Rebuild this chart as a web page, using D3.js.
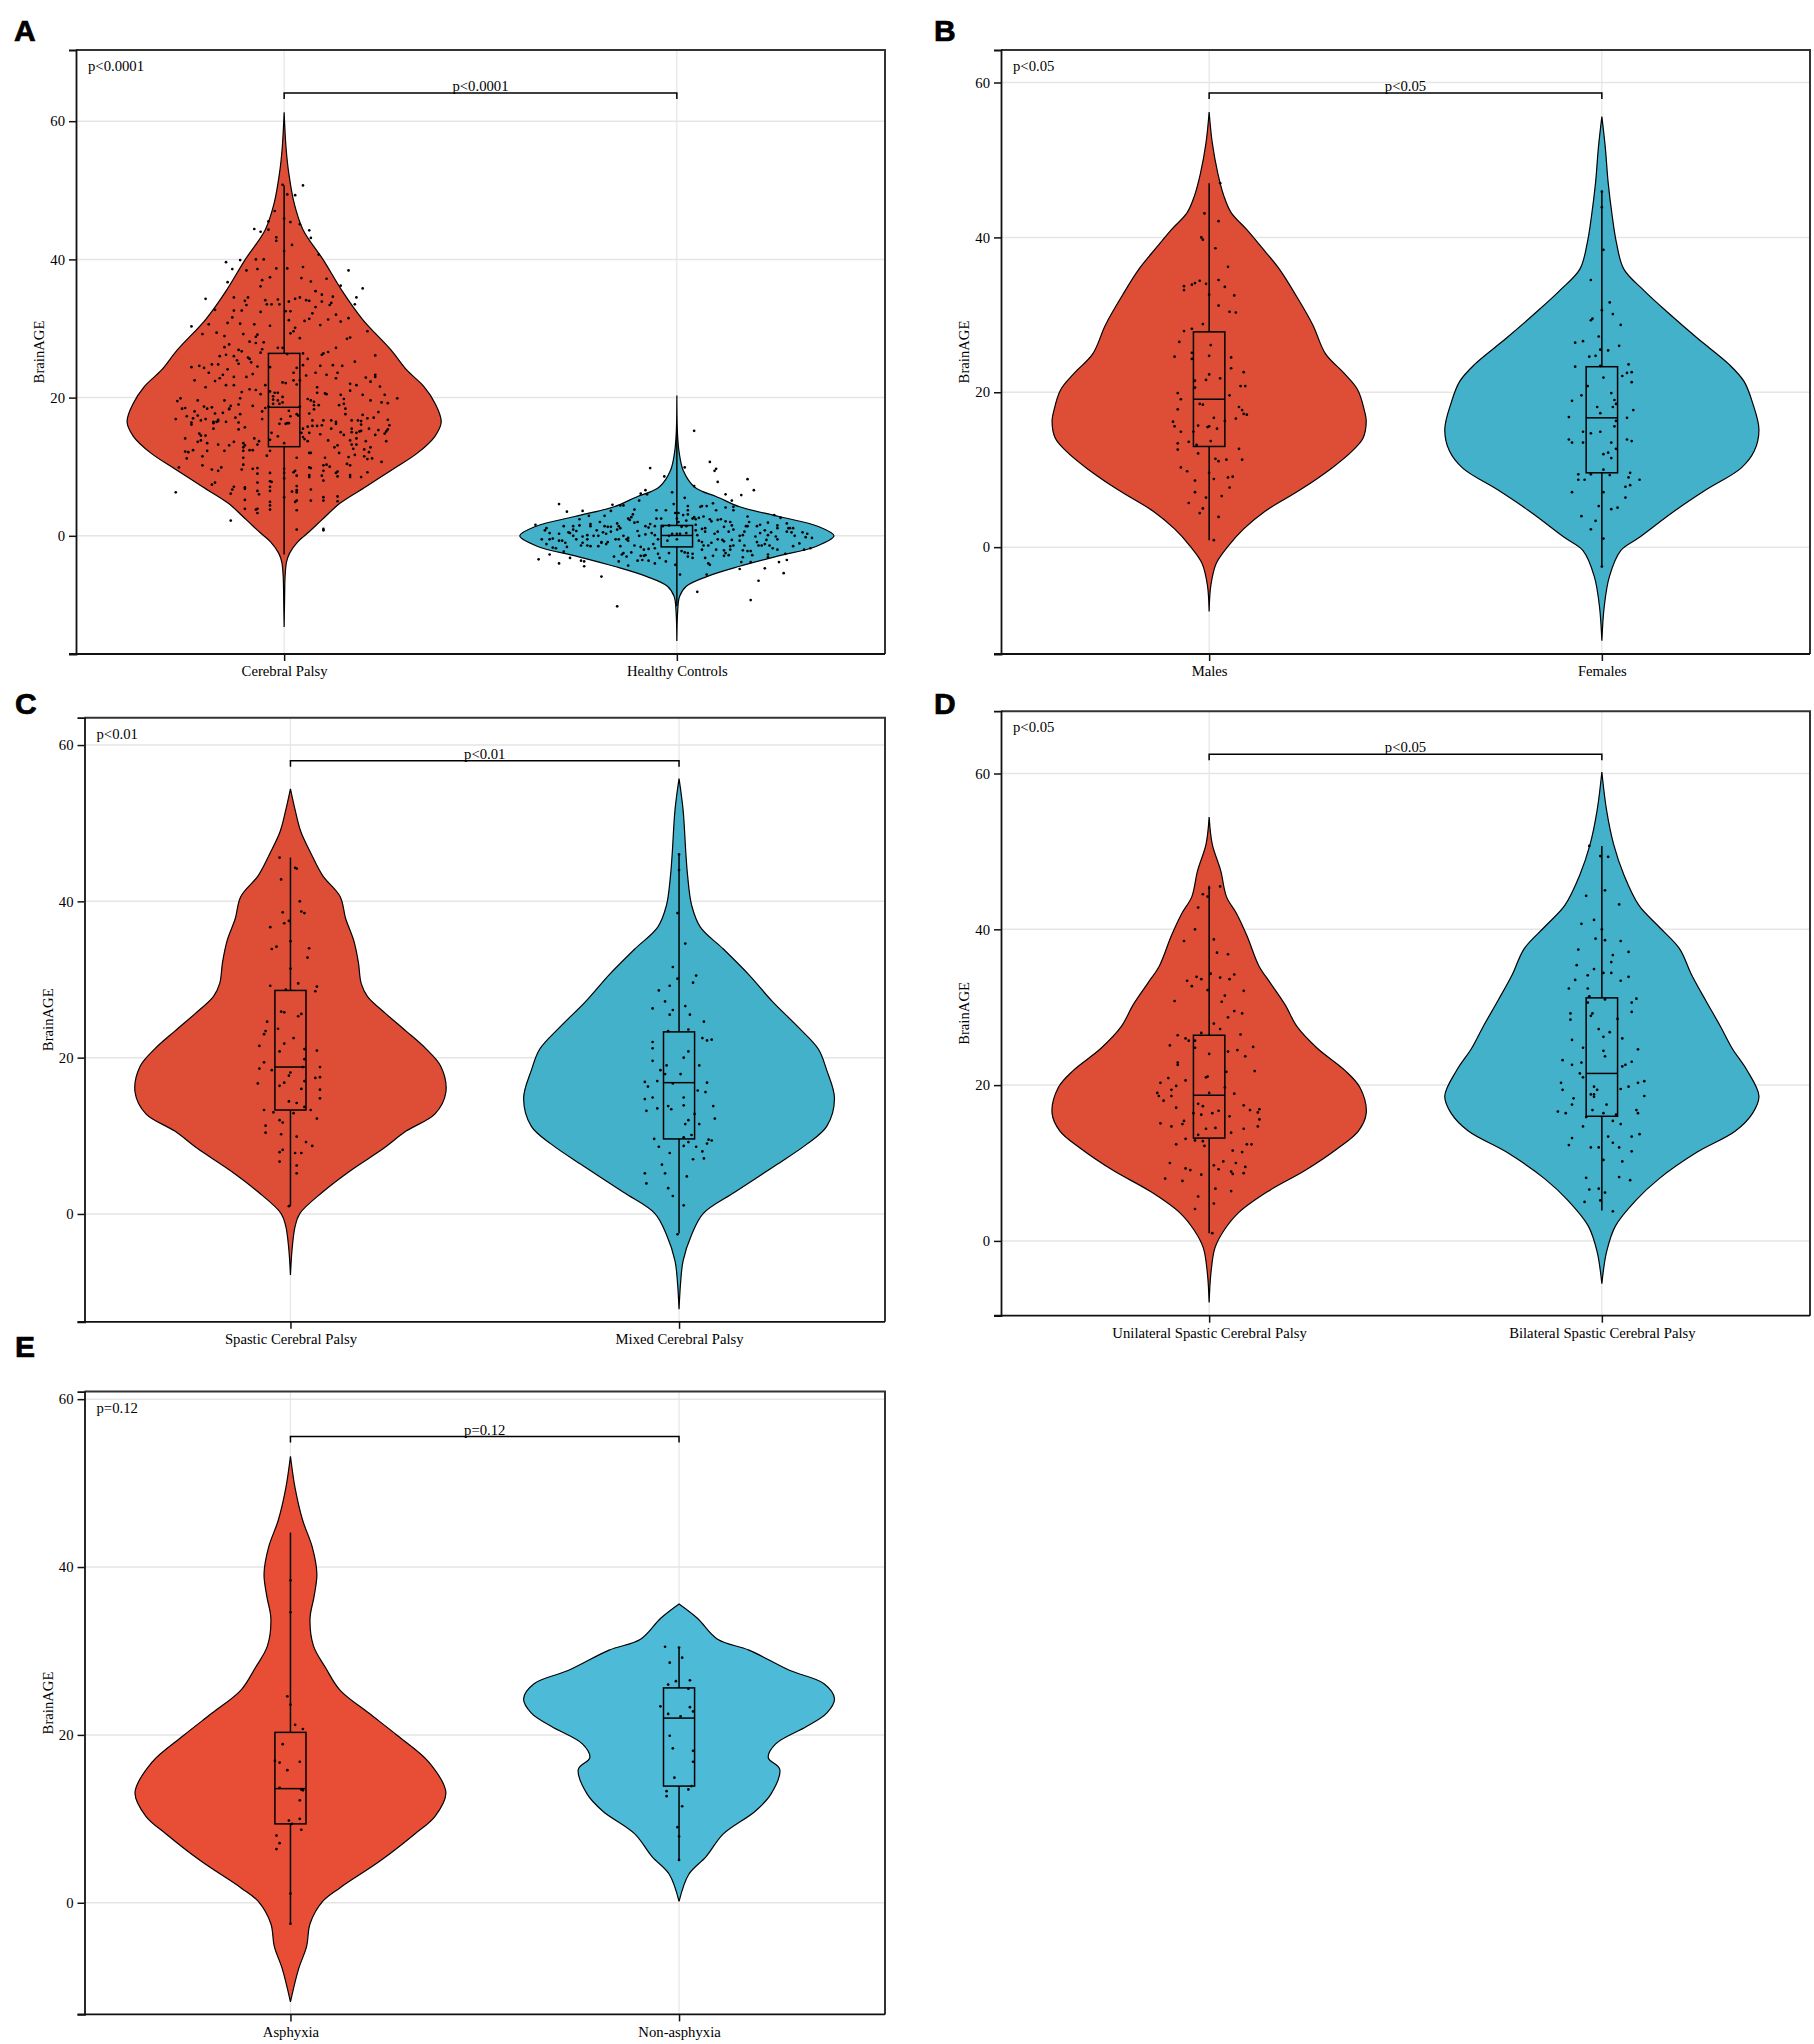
<!DOCTYPE html>
<html>
<head>
<meta charset="utf-8">
<title>BrainAGE violins</title>
<script src="https://cdn.jsdelivr.net/npm/d3@7"></script>
<style>
body { margin: 0; background: #fff; }
text { font-family: "Liberation Serif", serif; fill: #000; }
</style>
</head>
<body>
<svg id="fig" width="1814" height="2044"></svg>
<script>
// tick labels
const yTicks = [0, 20, 40, 60];

// each violin: outline levels (BrainAGE), relative widths (0-1), box [low, q1, median, q3, high], dots [jitter, BrainAGE]
// A - Cerebral Palsy
const cpLevels = [61.3,56.2,52.4,48.1,44.3,39.9,35.6,31.3,26.9,24,21.6,19.2,16.5,14.4,12,9.6,7.1,4.7,2.3,.4,-.9,-2.5,-3.8,-5.9,-9,-13.2];
const cpWidths = [0,.012,.03,.064,.12,.25,.365,.5,.68,.78,.89,.96,1,.96,.85,.69,.52,.355,.24,.15,.085,.035,.015,.006,.003,0];
const cpBox = [-2.7,12.9,18.6,26.4,50.7];
const cpPoints = [[.12,50.7],[-.01,50.8],[.02,49.4],[.07,49.3],[-.06,47],[0,45.9],[.04,45.4],[.1,45.1],[-.1,45.5],[-.19,44.4],[-.15,44],[-.1,44.3],[.16,44.2],[.17,43.1],[-.05,43.2],[-.05,42.7],[.05,42.1],[0,41.2],[.22,40.7],[-.18,40],[-.13,40],[-.28,39.9],[-.37,39.6],[-.33,38.6],[-.24,38.4],[-.17,38.6],[-.05,38.7],[.02,38.7],[.12,38.9],[.41,38.4],[-.09,37.4],[.11,37.3],[.27,37.2],[-.14,37],[.17,36.8],[-.36,36.7],[.36,36.2],[-.15,36.1],[.5,35.8],[.2,35.4],[.24,34.9],[-.32,34.5],[-.23,34.5],[.31,34.6],[.46,34.5],[.1,34.5],[.07,34.3],[-.5,34.3],[-.04,34.2],[-.12,34.1],[-.25,34],[.14,34.1],[.16,34],[.03,33.9],[.24,33.9],[.3,33.7],[-.24,33.4],[-.11,33.5],[-.08,33.5],[-.03,33.5],[.29,33.4],[.45,33.5],[.2,33.1],[-.44,32.7],[-.32,32.6],[-.27,32.6],[-.15,32.4],[.01,32.5],[.04,32.5],[.18,32.2],[.33,32],[-.33,31.6],[.41,31.5],[.16,31.4],[.28,31.3],[.13,31.1],[.03,31.2],[.36,31],[-.36,30.8],[-.48,30.6],[-.28,30.7],[-.19,30.6],[.23,30.5],[-.59,30.3],[-.09,30.4],[.07,30.1],[.06,29.6],[.53,29.6],[-.43,29.4],[-.52,29.2],[-.26,29.2],[.04,29.3],[-.17,29.1],[-.18,28.8],[-.38,28.9],[.1,28.6],[.42,28.7],[.4,28.5],[-.22,28.1],[-.13,28],[-.18,27.9],[-.35,27.7],[-.38,27.3],[-.04,27.2],[-.01,27.2],[.33,27.2],[-.29,26.9],[-.27,26.7],[-.14,27],[.28,26.6],[-.15,26.5],[-.37,26.2],[-.32,26],[.12,26.4],[.02,26.3],[.25,26.4],[.24,26.2],[-.41,26],[-.23,25.8],[.15,25.6],[.58,26.1],[-.22,25.6],[-.3,25.4],[-.21,25.1],[.45,25.2],[-.46,24.8],[-.42,24.8],[-.29,24.9],[.12,24.7],[-.59,24.4],[-.54,24.6],[-.17,24.5],[.23,24.6],[.31,24.7],[.37,24.6],[-.51,24.3],[.08,24.3],[-.09,24.4],[-.36,24.1],
[-.48,23.6],[-.2,23.4],[.06,23.6],[.2,23.6],[.27,23.3],[.34,23.6],[-.39,23.3],[-.41,22.8],[-.44,22.4],[-.32,23],[-.24,23],[.14,23.2],[.06,22.5],[.1,22.5],[.33,22.8],[.58,23.3],[.52,22.9],[.58,23],[.55,22.3],[-.57,22.5],[-.5,21.5],[-.37,21.8],[-.32,21.8],[-.12,21.8],[-.01,22.2],[.01,22.1],[.08,21.9],[.42,22],[.46,21.8],[.61,21.6],[.21,21.5],[.21,20.7],[.42,21],[-.22,21.2],[-.18,21.1],[-.15,20.5],[-.27,20.8],[-.09,20.9],[-.06,20.7],[-.04,20.7],[.26,20.6],[.27,20.5],[.36,20.4],[.5,20.4],[.64,20.4],[.72,19.9],[-.66,19.9],[-.68,19.5],[-.55,19.6],[-.38,19.6],[-.28,19.9],[-.07,20.2],[-.01,20.1],[.15,19.8],[.17,19.6],[.38,19.8],[.55,19.6],[-.07,19.7],[-.04,19.6],[.19,19.4],[.62,19.3],[.66,19.2],[-.07,19.1],[-.03,19.1],[-.01,19.3],[-.29,19],[-.34,18.8],[-.2,18.8],[-.51,18.7],[-.46,18.6],[.19,18.9],[.22,18.9],[.35,18.9],[.38,19.1],[-.1,18.7],[-.65,18.4],[-.63,18.5],[-.49,18.4],[-.35,18.3],[-.35,18.4],[-.12,18.5],[.19,18.3],[.39,18.4],[.1,18.7],[-.57,18],[-.39,17.8],[-.44,17.7],[-.28,17.6],[-.14,18],[.03,18.1],[.16,17.7],[.6,17.9],[.39,17.6],[-.55,17.4],[-.62,17.3],[.08,17.6],[.09,17.4],[.04,17.3],[.5,17.5],[.57,17.1],[.53,17],[-.58,17],[-.69,16.9],[-.5,16.9],[-.53,16.7],[-.42,16.8],[-.45,16.5],[-.43,16.5],[-.42,16.6],[-.37,16.5],[-.31,17.1],[-.14,16.9],[-.02,16.9],[.18,16.7],[.25,16.7],[.3,16.7],[.33,16.5],[.43,16.7],[.47,16.7],[.49,16.6],[.66,16.8],[-.45,16.3],[-.29,16.4],[.03,16.3],[.02,16.3],[-.03,16.2],[.01,16.2],[-.59,16.4],[-.59,16.1],[.24,16],[.33,16.2],[.49,16.1],[.67,16],[-.25,15.7],[.18,15.9],[.15,15.8],[.21,15.9],[-.45,15.5],[-.29,15.4],[.12,15.5],[.3,15.5],[.43,15.5],[.54,15.5],[.6,15.3],[.66,15.4],[.65,15.1],[.36,15],[.43,15],[.46,14.9],[.48,15.1],[.49,15.2],[.64,14.8],[-.54,14.8],[.11,14.9],[.16,14.9],[-.08,14.9],[.23,14.7],[.38,14.6],[.58,14.6],[-.53,14.5],[-.5,14.5],[-.04,14.4],[-.63,14.1],[-.19,14.1],[.12,14.3],[.13,14],[.46,14.1],[-.53,13.8],[-.16,13.7],[-.09,13.9],[.15,13.7],[.28,13.8],[.42,13.8],[.52,13.7],[.65,13.7],[-.55,13.6],[-.32,13.6],[-.49,13.4],[-.42,13.2],[-.35,13.1],[-.26,13.4],[-.25,13.1],[-.17,13.2],[0,13.4],[.34,13.1],[.43,13.2],[.46,13.2],[.32,12.8],[-.26,12.8],[.55,12.8],[.44,12.6],[.51,12.5],[-.49,12.3],[-.58,12.4],[-.61,12.1],[-.63,12.2],[-.38,12.3],[-.26,12.3],[-.22,12.4],[-.2,12.4],[.16,12],[.17,12],[.35,12],[.54,12.1],[-.52,11.5],[-.11,11.6],[-.09,12.3],[.45,11.7],[.41,11.4],[.51,11.5],[.53,11.1],[.56,11.2],[-.62,11.2],[-.26,11.3],[.08,11.3],[.26,11.3],[.62,10.7],[-.26,10.3],[-.52,10.2],[.4,10.4],[.42,10.2],[.27,10.3],[.25,10.2],[.29,10],[-.67,9.9],[-.4,9.9],[.16,9.9],[.17,9.8],[-.2,9.7],[-.17,9.8],[-.46,9.6],[-.42,9.4],[-.27,9.6],[0,9.7],[.07,9.4],[.06,9.2],[.25,9.4],[.34,9.3],[.33,9.1],[.53,9.2],[-.17,9],[-.09,9.1],[0,9.1],[.08,8.7],[.16,8.8],[.24,8.7],[.34,8.6],[.42,8.8],[.42,8.5],[.49,8.5],[0,8.3],[.16,8.5],[-.09,7.9],[-.08,7.8],[-.17,7.7],[.25,8],[-.44,7.7],[-.46,7.4],[.08,7.2],[-.09,7.1],[-.32,7.1],[-.25,7],[-.25,6.8],[-.33,6.7],[-.34,6.1],[-.17,6.5],[.17,6.7],[-.09,6.5],[.08,6.6],[-.69,6.3],[.05,6.4],[.08,6.3],[-.16,6],[0,5.6],[.25,5.6],[.34,5.7],[-.25,5.2],[.08,5.1],[.07,4.9],[.17,5.1],[.25,5.1],[.34,5],[-.09,4.9],[-.09,4.4],[-.25,3.9],[-.17,3.9],[-.18,3.8],[-.09,3.8],[.08,3.7],[-.17,3.3],[-.34,2.2],[.08,.9],[.25,1],[.25,.8]];

// A - Healthy Controls
const hcLevels = [20.3,14.8,12,9.5,7.1,6.4,5.7,4.2,2.8,1.35,0,-1.5,-3,-4.4,-5.9,-7.3,-8.8,-11,-15.2];
const hcWidths = [0,.004,.015,.04,.11,.165,.25,.4,.65,.9,1,.89,.63,.4,.19,.06,.017,.005,0];
const hcBox = [-10.2,-1.6,.05,1.5,15.2];
const hcPoints = [[.11,15.2],[.21,10.7],[.25,9.7],[.24,9.4],[-.17,9.8],[.05,9.9],[-.08,8.6],[.26,7.8],[.45,8.2],[.49,6.6],[.11,7.2],[-.03,6.3],[-.2,6.6],[-.23,6.1],[-.19,6],[.31,6],[.41,5.9],[.05,5.5],[-.24,5.1],[.35,5.1],[-.75,4.6],[-.02,4.6],[-.41,4.5],[-.36,4.4],[-.34,4.4],[.07,4.3],[.15,4.2],[.16,4.3],[.19,4.3],[.23,4.7],[.31,4.1],[.36,4.2],[-.7,3.5],[-.6,3.6],[-.42,3.6],[-.27,3.8],[-.13,3.7],[-.07,3.7],[.07,3.7],[.25,3.7],[.36,3.7],[-.56,2.9],[-.46,2.9],[-.28,3.1],[-.29,2.7],[-.01,3.3],[.01,3.3],[.04,3],[.07,3.1],[.17,2.8],[.45,2.8],[.62,3],[.66,2.6],[-.62,2.4],[-.55,1.7],[-.49,2],[-.38,1.8],[-.31,2.5],[-.3,2.3],[-.13,2.5],[-.1,2.5],[0,2.5],[.01,2],[.06,2.2],[.1,2.5],[.11,2.7],[.12,2.4],[.14,2.6],[.21,2.4],[.22,2.1],[.26,2.3],[.28,2.4],[.31,2.1],[.34,2],[.3,1.3],[.35,1.5],[.46,2],[-.9,1.6],[-.72,1.4],[-.66,1.4],[-.62,1.5],[-.55,1.4],[-.46,1.4],[-.44,1.3],[-.42,1.3],[-.37,1.4],[-.27,1.9],[-.25,2],[-.17,1.7],[-.14,1.4],[-.09,1.4],[-.05,1.5],[.03,1.3],[.06,1.4],[.12,1.6],[.18,1.1],[.44,1.4],[.45,1.4],[.51,1.4],[.53,1.6],[.58,1.9],[.64,1.5],[.7,1.8],[-.83,1.1],[-.84,.8],[-.69,.5],[-.68,.4],[-.64,.7],[-.66,.9],[-.51,.8],[-.47,.5],[-.42,.6],[-.38,.9],[-.36,1.1],[-.2,1.4],[-.18,1.2],[-.25,.7],[-.16,.4],[-.14,.1],[.12,.8],[.16,1],[.18,.6],[.24,.3],[.26,.6],[.33,.6],[.36,.9],[.43,.6],[.53,.4],[.56,.8],[.64,1.1],[.6,.5],[.71,1.1],[.72,1.1],[.74,1.1],[.7,.6],[.73,.5],[.8,.5],[.83,.3],[-.81,.4],[-.75,.3],[-.6,-.1],[-.57,.1],[-.53,0],[-.5,0],[-.45,.3],[-.34,0],[-.31,-.3],[-.24,0],[-.2,.2],[-.05,0],[-.03,.3],[0,.3],[.02,.3],[.06,.4],[.13,.1],[.26,-.5],[.4,0],[.42,.1],[.5,-.1],[.58,.1],[.63,-.1],[.75,0],[.82,-.2],[.86,-.3],[-.86,-.5],[-.81,-.5],[-.79,-.4],[-.75,-.7],[-.73,-.7],[-.66,0],[-.64,-.5],[-.57,-.5],[-.48,-.9],[-.44,-.9],[-.39,-.5],[-.37,-.5],[-.32,-.5],[-.31,-.7],[-.12,-.5],[-.06,-.7],[0,-.5],[.14,-.7],[.16,-.9],[.22,-1],[.29,-.6],[.3,-.8],[.35,-.6],[.4,-.7],[.51,-.9],[.57,-.6],[.64,-.5],[-.83,-1.2],[-.71,-1],[-.61,-1.4],[-.6,-1],[-.57,-1.4],[-.55,-1.5],[-.5,-1.5],[-.45,-1.2],[-.48,-1],[-.27,-1.4],[.17,-1.4],[.2,-1.4],[.34,-1.5],[.36,-1.4],[.43,-1.4],[.52,-1.4],[.54,-1.4],[.59,-1.4],[.74,-1.5],[.78,-1.1],[-.79,-1.7],[-.77,-1.8],[-.7,-1.6],[-.36,-1.5],[-.23,-1.6],[-.21,-2],[-.18,-1.9],[-.15,-1.2],[-.14,-1.8],[.16,-2],[.25,-2],[.3,-2.1],[.34,-2],[.42,-2.1],[.45,-2.2],[.47,-2.2],[.56,-1.2],[.61,-1.8],[.64,-2],[.81,-2],[.85,-1.8],[-.72,-2.3],[-.81,-2.7],[-.34,-2.5],[-.35,-2.7],[-.29,-2.4],[-.2,-2.8],[-.12,-2.6],[-.05,-2.5],[.03,-2.2],[.05,-2.4],[.07,-2.5],[.1,-2.6],[.31,-2.5],[.3,-2.9],[.33,-2.8],[.18,-3.2],[.23,-2.9],[.42,-3.1],[.48,-2.8],[.58,-2.7],[.58,-3.1],[.69,-2.6],[-.4,-3],[-.32,-3],[-.23,-2.9],[-.21,-2.9],[.07,-3],[.1,-3.2],[-.68,-3.2],[-.88,-3.4],[-.61,-3.6],[-.59,-3.7],[-.37,-3.7],[-.25,-3.6],[-.22,-3.5],[-.18,-3.6],[-.14,-4],[-.11,-3.2],[-.07,-3.7],[.41,-3.8],[.47,-3.8],[.65,-3.8],[.7,-3.5],[-.75,-4],[-.31,-4.3],[-.59,-4.4],[-.01,-4.2],[.2,-4],[.21,-4.2],[.4,-4.8],[.56,-4.7],[.02,-5.6],[.19,-5.6],[-.48,-5.9],[.68,-5.4],[.52,-6.5],[.13,-8.1],[.47,-9.3],[-.38,-10.2]];

// B - Males
const maleLevels = [56.2,52.2,48.2,45.4,43.2,41,38.7,35.9,32.6,28.7,25,22.5,20.3,17.5,16.3,14.1,12.4,10.2,7.4,4.6,2.35,.1,-2.1,-4.9,-8.3];
const maleWidths = [0,.02,.056,.093,.14,.24,.335,.447,.55,.66,.74,.857,.946,.99,1,.98,.91,.78,.58,.354,.22,.12,.045,.011,0];
const maleBox = [.9,13,19.1,27.8,47];
const malePoints = [[.07,47],[-.03,43.1],[.06,42.1],[-.05,40],[-.04,39.7],[.04,38.6],[.12,36.2],[-.06,34.4],[-.09,34.1],[.06,34.5],[-.11,33.9],[-.16,33.7],[-.16,33.2],[-.02,34],[.1,33.6],[0,32.6],[.16,32.5],[.06,31.2],[.13,30.4],[.17,30.3],[-.04,28.8],[-.11,28.2],[-.16,27.9],[-.19,26.5],[.01,26.1],[-.22,24.6],[-.11,25.1],[-.11,24.3],[0,24.7],[.14,24.5],[.14,23.1],[.22,22.6],[0,22.3],[-.02,21.6],[.07,21.8],[-.09,21.5],[.2,20.8],[.23,20.8],[-.09,20.6],[-.2,19.9],[.13,19.6],[-.18,19.1],[-.06,18.5],[-.04,18.4],[-.2,17.8],[.19,18.1],[.21,17.7],[.22,17.2],[.24,17.1],[.03,16.7],[.17,16.6],[.1,16.3],[-.23,16.2],[-.22,15.6],[-.07,15.7],[-.01,15.5],[0,15.6],[.05,15.3],[-.18,14.9],[-.1,14.9],[-.13,13.6],[.01,13.7],[-.2,13.4],[-.08,13.2],[-.2,12.6],[.19,12.7],[-.07,12.1],[.04,11.4],[.06,11.1],[.11,11.3],[.21,11.3],[-.18,10.3],[-.14,9.8],[0,9.6],[.15,9.1],[.12,9],[.03,8.8],[-.09,8.6],[.13,7.7],[-.09,7.1],[.08,6.6],[-.02,6.4],[-.13,5.7],[-.04,5],[-.06,4.4],[.06,3.9],[.03,.9]];

// B - Females
const femaleLevels = [55.6,51.6,47.1,42.6,39.3,35.9,33.1,30.3,27,23.6,21.4,18.6,15.2,12.4,10.2,7.4,4.6,1.2,-.45,-3.8,-7.7,-12.1];
const femaleWidths = [0,.022,.04,.067,.093,.14,.27,.42,.607,.81,.905,.96,1,.97,.886,.663,.458,.235,.12,.048,.015,0];
const femaleBox = [-2.6,9.6,16.7,23.3,46];
const femalePoints = [[0,45.9],[0,43.9],[.01,38.4],[-.07,34.5],[.05,31.6],[0,30.6],[.07,30.1],[-.06,29.5],[-.07,29.3],[.12,28.7],[-.02,27.2],[-.12,26.6],[-.17,26.4],[.11,26],[-.01,25.5],[.04,25.4],[-.08,24.6],[-.04,24.7],[-.17,23.3],[-.01,23.4],[.17,23.6],[.16,22.5],[.19,22.6],[.13,22.1],[.01,21.9],[.19,21.3],[-.09,20.8],[.06,19.9],[-.13,19.6],[-.19,18.9],[.08,19],[.09,18.5],[-.03,18.1],[.07,18.1],[.2,17.7],[-.01,17.3],[-.21,16.8],[.16,16.7],[.09,16.3],[.08,15.6],[-.12,14.9],[-.01,14.9],[-.07,14.7],[-.21,13.9],[.16,13.9],[.19,13.7],[-.19,13.5],[-.12,13.5],[.06,13.5],[.09,12.7],[.04,12.2],[.01,12],[.06,11.5],[.01,10],[.18,9.6],[-.15,9.4],[-.07,9.4],[.05,9.3],[.17,9],[-.15,8.7],[-.11,8.7],[.24,8.7],[.18,8],[.15,7.8],[-.19,7.1],[.01,7.1],[.15,6.4],[-.02,5.3],[.1,5.1],[.06,4.9],[-.13,4],[-.04,3.4],[-.07,2.3],[.01,1.1],[0,-2.5]];

// C - Spastic Cerebral Palsy
const spasticLevels = [54.4,51.7,48.9,46.1,43.3,40.6,37.8,35,32.2,29.5,27.8,25.6,23.4,21.1,18.9,15.6,12.8,10.6,8.4,5.6,2.8,.05,-1.6,-4.4,-7.8];
const spasticWidths = [0,.03,.067,.133,.207,.32,.355,.407,.437,.455,.496,.615,.744,.874,.967,1,.93,.744,.6,.39,.207,.06,.03,.011,0];
const spasticBox = [1,13.3,18.8,28.6,45.6];
const spasticPoints = [[-.07,45.6],[.03,44.3],[.04,44.2],[-.06,42.8],[.06,40],[-.05,38.6],[.07,38.7],[.09,38.5],[-.01,37.5],[-.04,37.2],[-.13,36.7],[0,34.9],[-.09,34.2],[-.12,33.9],[.12,34],[.11,32.8],[0,31.4],[.05,29.5],[-.13,29.2],[.17,29.1],[.16,28.5],[-.03,28.7],[-.06,25.9],[-.04,25.8],[.07,25.6],[.05,25.3],[-.15,24.6],[-.08,23.7],[-.16,23.4],[-.17,23],[.02,22.5],[-.04,21.8],[-.2,21.5],[.09,21.1],[-.07,20.8],[.17,20.9],[.09,19.8],[-.17,19.4],[-.2,18.6],[.08,18.8],[.19,18.8],[-.12,18.4],[0,18.1],[-.01,17.7],[.16,17.4],[.19,17.5],[.09,17],[-.04,16.8],[-.21,16.7],[-.07,16.4],[.19,15.9],[.07,16],[.19,14.8],[-.01,14.4],[.04,14.2],[.09,13.7],[-.17,13.3],[.13,13.3],[-.11,13],[.02,12.9],[.17,12.2],[-.07,12],[-.05,11.7],[-.16,11.3],[-.16,10.4],[-.06,10.2],[.04,9.9],[.1,9.2],[.14,8.7],[-.05,8.2],[-.07,7.9],[.03,7.8],[.07,7.8],[-.07,6.7],[.04,6.2],[.04,5.2],[-.01,1]];

// C - Mixed Cerebral Palsy
const mixedLevels = [55.7,51.7,46.1,43.3,39.5,36.7,33.9,30.6,27.2,23.9,21.1,18.4,14.8,11.2,8.9,6.2,2.8,.05,-2.7,-6,-8.8,-12.2];
const mixedWidths = [0,.026,.044,.055,.081,.137,.285,.45,.6,.767,.896,.95,1,.95,.82,.62,.36,.155,.08,.026,.01,0];
const mixedBox = [-2.5,9.6,16.8,23.3,46];
const mixedPoints = [[0,46],[0,44],[-.01,38.5],[.04,34.6],[-.04,31.6],[.11,30.5],[-.01,30.1],[.09,29.6],[-.06,29.2],[-.13,28.6],[-.09,27.2],[.04,26.6],[-.17,26.3],[-.04,26.1],[.07,25.5],[-.06,25.5],[.16,24.6],[.06,23.6],[-.07,23.4],[.15,22.5],[.18,22.2],[.21,22.3],[-.17,22],[-.17,21.2],[.06,20.8],[.03,20],[-.17,19.6],[.13,19],[-.08,19],[-.12,18.4],[-.09,17.9],[.01,17.9],[-.14,17],[-.22,16.9],[-.04,16.7],[.18,16.8],[-.2,16.3],[.12,15.8],[.17,15.6],[-.17,14.9],[.03,14.9],[-.22,14.7],[.03,13.9],[.22,13.8],[-.07,13.8],[-.05,13.4],[-.14,13.5],[-.21,13.2],[.1,12.8],[.23,12.2],[.06,12],[.04,11.5],[.13,11.5],[.08,10.1],[-.16,9.6],[.03,9.8],[.19,9.5],[.21,9.4],[.06,9.2],[.18,9],[-.13,8.6],[.03,8.7],[.11,8.6],[.15,8],[-.06,7.8],[.09,7],[.16,7.1],[-.11,6.3],[-.22,5.2],[-.09,5.2],[.05,4.8],[-.21,3.9],[-.07,3.3],[-.04,2.3],[.03,1.1],[-.01,-2.6]];

// D - Unilateral Spastic Cerebral Palsy
const uniLevels = [54.4,50.9,47.5,44.2,42,39.2,35.3,33.1,30.3,27.5,24.7,21.9,19.7,16.4,14.1,11.9,9.1,6.3,3.6,1.3,-.9,-4.2,-7.9];
const uniWidths = [0,.02,.074,.11,.175,.24,.317,.39,.484,.56,.69,.864,.96,1,.95,.82,.615,.37,.186,.093,.037,.011,0];
const uniBox = [1,13.2,18.7,26.4,45.6];
const uniPoints = [[.07,45.5],[0,45.3],[-.04,44.5],[-.01,44.2],[-.07,42.8],[-.09,40],[.03,38.7],[-.16,38.5],[.05,37],[.12,36.8],[.01,34.3],[.16,34.2],[-.08,33.9],[.07,33.8],[-.05,33.6],[.13,33.6],[-.14,33.4],[-.11,32.7],[-.01,32.2],[.22,32.1],[.1,31.5],[.08,30.7],[-.22,30.8],[.16,29.5],[.21,29.2],[.12,28.7],[.03,27.9],[.07,27.2],[-.05,26.7],[.2,26.5],[-.2,26.4],[-.15,26],[-.13,25.7],[-.25,25.1],[-.09,25.7],[-.09,24.8],[.28,24.9],[.18,24.5],[.12,24.3],[0,24],[.23,23.7],[-.2,22.9],[-.2,22.6],[.11,21.7],[.29,21.8],[-.01,21.1],[-.02,21],[-.26,20.9],[-.15,20.6],[-.21,19.9],[-.31,20.3],[.1,19.7],[-.24,19.4],[0,19],[.16,18.9],[-.33,19],[-.32,18.6],[-.24,18.6],[-.29,18],[.22,17.4],[-.07,17.6],[-.04,17.3],[-.21,17.1],[.26,16.8],[.32,16.9],[.31,16.5],[.06,16.7],[.02,16.4],[-.1,16.4],[-.05,16.2],[.13,16],[.32,15.6],[-.16,15.4],[-.31,15.1],[-.17,15],[-.24,14.7],[.31,14.7],[-.02,14.4],[.04,14.5],[.22,14.4],[.14,13.9],[-.07,13.6],[-.15,13.1],[-.09,12.9],[-.04,12.8],[-.21,12.4],[.24,12.4],[.27,12.4],[-.03,12.2],[.15,11.6],[.21,11.4],[.09,10.2],[-.25,10],[.17,10],[.03,9.7],[.06,9.2],[-.15,9.3],[.23,9.5],[-.12,9.1],[.14,8.9],[.22,8.7],[-.05,8.5],[.15,8.6],[-.28,8],[-.17,7.7],[.04,6.7],[.14,6.4],[-.07,5.7],[.03,4.8],[-.09,4.1],[.02,1]];

// D - Bilateral Spastic Cerebral Palsy
const biLevels = [60.2,55.3,50.9,47,43.1,40.3,37.5,34.2,30.8,27.5,24.7,21.9,18.6,16.4,14.1,11.4,8,5.2,1.9,-1.4,-5.5];
const biWidths = [0,.03,.075,.14,.235,.365,.495,.57,.663,.756,.83,.924,1,.96,.85,.607,.365,.216,.086,.03,0];
const biBox = [3.9,16,21.5,31.2,50.7];
const biPoints = [[-.08,50.7],[-.01,49.4],[.04,49.3],[.02,45],[-.1,44.3],[.11,43.2],[-.05,41.2],[-.13,40.7],[0,40],[-.04,38.8],[.02,38.6],[.12,38.5],[-.15,37.4],[.17,37.1],[.07,36.7],[.06,35.8],[-.16,35.4],[-.05,34.9],[.06,34.4],[.01,34.4],[-.09,34.1],[.17,33.9],[.12,33.4],[-.17,33.5],[-.21,32.4],[-.09,32.4],[-.08,31.4],[.02,31],[.22,31.1],[.19,30.6],[-.09,30.6],[.19,29.4],[-.2,29.2],[-.06,29.2],[-.07,28.9],[-.2,28.4],[.1,28.5],[-.02,27.2],[.05,26.8],[.01,26.2],[.13,26],[-.19,25.8],[-.12,24.8],[.23,24.6],[.01,24.4],[.02,23.7],[-.25,23.2],[.19,23],[-.13,22.9],[-.19,22.6],[.15,22.6],[.13,22.4],[-.14,21.5],[-.12,21],[.27,20.5],[.23,20.3],[-.26,20.3],[-.25,19.4],[.12,19.5],[.17,19.8],[-.05,19.8],[-.03,19.4],[-.05,18.8],[-.07,18.8],[.27,18.6],[-.05,18.5],[-.18,18.3],[.03,17.5],[-.19,17.5],[-.06,16.8],[-.28,16.6],[.22,16.8],[-.23,16.4],[.01,16.4],[.23,16.4],[.09,16.2],[-.1,15.9],[.07,15.4],[.12,15],[-.12,14.7],[.24,13.7],[.19,13.4],[.04,13.4],[-.19,13.2],[.07,12.6],[-.21,12.3],[-.07,12],[-.02,12],[.11,12],[.19,11.5],[.01,10.4],[.13,10.2],[-.1,8.1],[.11,8.2],[.18,7.8],[-.08,6.6],[-.02,6.7],[.02,6.2],[-.11,5],[-.01,5.2],[.07,3.8]];

// E - Asphyxia
const asphLevels = [53.2,49.4,45.6,42.4,39.2,36.5,33.9,30.6,28,25.3,22.6,19.9,16.7,13.1,10.3,8.2,5,1.8,.16,-2.5,-5.2,-7.9,-11.8];
const asphWidths = [0,.03,.078,.14,.17,.152,.126,.148,.226,.32,.504,.69,.893,1,.93,.8,.578,.32,.207,.126,.104,.052,0];
const asphBox = [-2.5,9.4,13.6,20.3,44.1];
const asphPoints = [[0,38.4],[0,34.6],[-.02,24.6],[0,23.6],[.03,21.2],[.08,20.7],[-.05,18.9],[-.1,16.9],[-.07,16.7],[.06,16.8],[-.02,15.8],[-.07,13.7],[.07,13.5],[.08,13.4],[.06,12.2],[.06,10],[-.01,9.8],[.01,9.4],[.07,8.7],[-.09,8],[-.07,7.1],[-.09,6.4],[0,1.1],[0,-2.5]];

// E - Non-asphyxia
const nonLevels = [35.6,33.9,31.4,30.1,27.7,26.1,24.3,22.6,21,18.9,17.3,15.9,13,10.9,8.2,5.5,3.4,.16];
const nonWidths = [0,.118,.248,.45,.71,.933,1,.95,.82,.62,.574,.648,.593,.49,.285,.174,.063,0];
const nonBox = [5.2,13.9,22,25.6,30.4];
const nonPoints = [[-.09,30.5],[0,30.4],[.02,29.2],[-.06,28.6],[.07,26.5],[-.02,26.4],[-.07,26],[.06,25.5],[-.12,23.4],[.07,23.3],[-.07,22.5],[.09,22.8],[.01,22.2],[-.06,19.9],[-.04,18.4],[.09,18.1],[.09,16.8],[-.03,14.9],[.08,13.9],[.06,13.5],[-.08,13.3],[-.08,12.7],[.02,11.5],[-.01,9],[0,7.9],[0,5.1]];

const RED = '#de4e36', BLUE = '#44b1cb';
const RED_E = '#e84e35', BLUE_E = '#4dbad8';

const panels = [
    { letter: 'A', lx: 14, ly: 41, left: 76, right: 885, top: 50, bottom: 654, yDomain: [-17.1, 70.3], p: 'p<0.0001', bracket: 43,
      groups: [
        { name: 'Cerebral Palsy', color: RED, levels: cpLevels, widths: cpWidths, box: cpBox, pts: cpPoints },
        { name: 'Healthy Controls', color: BLUE, levels: hcLevels, widths: hcWidths, box: hcBox, pts: hcPoints }] },
    { letter: 'B', lx: 934, ly: 41, left: 1001, right: 1810, top: 50, bottom: 654, yDomain: [-13.8, 64.2], p: 'p<0.05', bracket: 43,
      groups: [
        { name: 'Males', color: RED, levels: maleLevels, widths: maleWidths, box: maleBox, pts: malePoints },
        { name: 'Females', color: BLUE, levels: femaleLevels, widths: femaleWidths, box: femaleBox, pts: femalePoints }] },
    { letter: 'C', lx: 15, ly: 714, left: 84.5, right: 885, top: 717.7, bottom: 1321.8, yDomain: [-13.8, 63.5], p: 'p<0.01', bracket: 43,
      groups: [
        { name: 'Spastic Cerebral Palsy', color: RED, levels: spasticLevels, widths: spasticWidths, box: spasticBox, pts: spasticPoints },
        { name: 'Mixed Cerebral Palsy', color: BLUE, levels: mixedLevels, widths: mixedWidths, box: mixedBox, pts: mixedPoints }] },
    { letter: 'D', lx: 934, ly: 714, left: 1001, right: 1810, top: 711.2, bottom: 1315.7, yDomain: [-9.6, 68], p: 'p<0.05', bracket: 43,
      groups: [
        { name: 'Unilateral Spastic Cerebral Palsy', color: RED, levels: uniLevels, widths: uniWidths, box: uniBox, pts: uniPoints },
        { name: 'Bilateral Spastic Cerebral Palsy', color: BLUE, levels: biLevels, widths: biWidths, box: biBox, pts: biPoints }] },
    { letter: 'E', lx: 15, ly: 1357, left: 84.5, right: 885, top: 1391.6, bottom: 2014.4, yDomain: [-13.3, 60.9], p: 'p=0.12', bracket: 45,
      groups: [
        { name: 'Asphyxia', color: RED_E, levels: asphLevels, widths: asphWidths, box: asphBox, pts: asphPoints },
        { name: 'Non-asphyxia', color: BLUE_E, levels: nonLevels, widths: nonWidths, box: nonBox, pts: nonPoints }] }
];

const svg = d3.select('#fig');
const FONT = 14.7;

function drawPanel(panel) {
    const g = svg.append('g');
    const names = panel.groups.map(d => d.name);
    const x = d3.scalePoint().domain(names).range([panel.left, panel.right]).padding(0.53);
    const y = d3.scaleLinear().domain(panel.yDomain).range([panel.bottom, panel.top]);
    // half violin width: same for both groups, 40% of the distance between them
    const half = d3.scaleLinear().domain([0, 1]).range([0, x.step() * 0.4]);

    // grid
    g.append('g').selectAll('line').data(yTicks).join('line')
        .attr('x1', panel.left).attr('x2', panel.right)
        .attr('y1', d => y(d)).attr('y2', d => y(d))
        .attr('stroke', '#e5e5e5').attr('stroke-width', 1.5);
    g.append('g').selectAll('line').data(names).join('line')
        .attr('x1', d => x(d)).attr('x2', d => x(d))
        .attr('y1', panel.top).attr('y2', panel.bottom)
        .attr('stroke', '#e5e5e5').attr('stroke-width', 1.2);

    // top and right of the frame
    g.append('path')
        .attr('d', `M${panel.left},${panel.top}H${panel.right}V${panel.bottom}`)
        .attr('fill', 'none').attr('stroke', '#333').attr('stroke-width', 2);

    panel.groups.forEach(group => {
        const cx = x(group.name);
        const area = d3.area()
            .curve(d3.curveCatmullRom)
            .y((d, i) => y(group.levels[i]))
            .x0(d => cx - half(d))
            .x1(d => cx + half(d));
        g.append('path')
            .attr('d', area(group.widths))
            .attr('fill', group.color).attr('stroke', '#000').attr('stroke-width', 1.2);

        const [low, q1, med, q3, high] = group.box;
        const boxHalf = half(0.1);
        g.append('line')
            .attr('x1', cx).attr('x2', cx).attr('y1', y(high)).attr('y2', y(q3))
            .attr('stroke', '#000').attr('stroke-width', 1.5);
        g.append('line')
            .attr('x1', cx).attr('x2', cx).attr('y1', y(q1)).attr('y2', y(low))
            .attr('stroke', '#000').attr('stroke-width', 1.5);
        g.append('rect')
            .attr('x', cx - boxHalf).attr('width', boxHalf * 2)
            .attr('y', y(q3)).attr('height', y(q1) - y(q3))
            .attr('fill', 'none').attr('stroke', '#000').attr('stroke-width', 1.5);
        g.append('line')
            .attr('x1', cx - boxHalf).attr('x2', cx + boxHalf).attr('y1', y(med)).attr('y2', y(med))
            .attr('stroke', '#000').attr('stroke-width', 1.5);

        g.append('g').selectAll('circle').data(group.pts).join('circle')
            .attr('cx', d => cx + half(d[0]))
            .attr('cy', d => y(d[1]))
            .attr('r', 1.35)
            .attr('fill', '#000');
    });

    // axes
    const yAxis = g.append('g')
        .attr('transform', `translate(${panel.left},0)`)
        .call(d3.axisLeft(y).tickValues(yTicks).tickSize(7).tickPadding(4));
    const xAxis = g.append('g')
        .attr('transform', `translate(0,${panel.bottom})`)
        .call(d3.axisBottom(x).tickSizeInner(7).tickSizeOuter(0).tickPadding(5));
    [yAxis, xAxis].forEach(a => {
        a.selectAll('text').style('font-size', FONT + 'px').style('font-family', '"Liberation Serif", serif');
        a.selectAll('.domain').attr('stroke', '#111').attr('stroke-width', 1.8);
        a.selectAll('.tick line').attr('stroke', '#111').attr('stroke-width', 1.5);
    });
    // the x axis line runs on past the y axis to the left
    xAxis.select('.domain').attr('d', `M${panel.left - 7},0H${panel.right}`);

    g.append('text')
        .attr('transform', `translate(${panel.left - 32},${(panel.top + panel.bottom) / 2}) rotate(-90)`)
        .attr('text-anchor', 'middle')
        .style('font-size', FONT + 'px')
        .text('BrainAGE');

    // p value, corner and bracket
    g.append('text')
        .attr('x', panel.left + 12).attr('y', panel.top + 21)
        .style('font-size', FONT + 'px')
        .text(panel.p);
    const bracketY = panel.top + panel.bracket;
    const x0 = x(names[0]), x1 = x(names[1]);
    g.append('path')
        .attr('d', `M${x0},${bracketY + 6}V${bracketY}H${x1}V${bracketY + 6}`)
        .attr('fill', 'none').attr('stroke', '#000').attr('stroke-width', 1.5);
    g.append('text')
        .attr('x', (x0 + x1) / 2).attr('y', bracketY - 2)
        .attr('text-anchor', 'middle')
        .style('font-size', FONT + 'px')
        .text(panel.p);

    svg.append('text')
        .attr('x', panel.lx).attr('y', panel.ly)
        .style('font-family', '"Liberation Sans", sans-serif')
        .style('font-weight', 'bold')
        .style('font-size', '30px')
        .style('stroke', '#000').style('stroke-width', 0.7)
        .text(panel.letter);
}

panels.forEach(drawPanel);
</script>
</body>
</html>
